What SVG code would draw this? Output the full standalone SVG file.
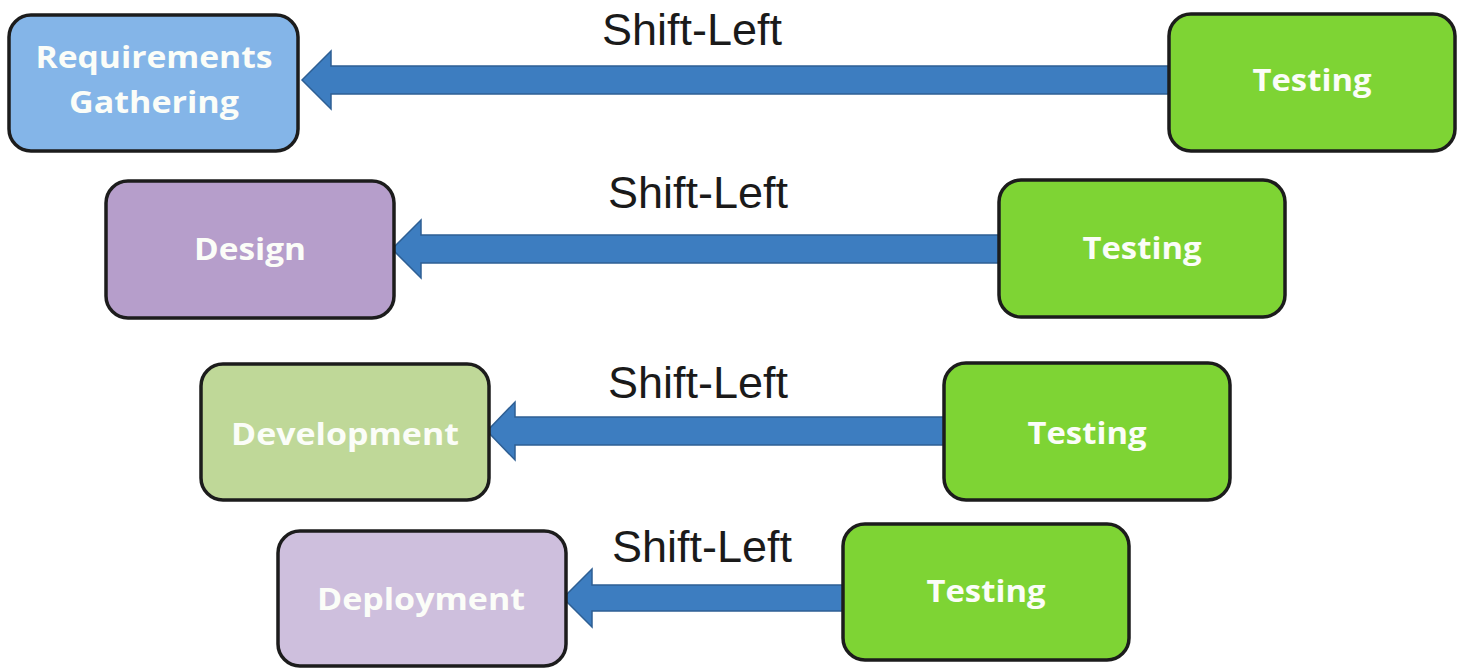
<svg xmlns="http://www.w3.org/2000/svg" width="1460" height="670" viewBox="0 0 1460 670">
<style>
.box{stroke:#1c1c1c;stroke-width:3.5}
.req{fill:#84b5e8}
.des{fill:#b69ecb}
.dev{fill:#bfd898}
.dep{fill:#cebfdd}
.test{fill:#7ed434}
.bt{font-family:"Open Sans","Noto Sans",sans-serif;font-weight:bold;font-size:31px;fill:#fbfdf8;text-anchor:middle}
.lbl{font-family:"Liberation Sans",Arial,sans-serif;font-size:45px;fill:#1a1a1a;text-anchor:middle}
.arr{fill:#3d7dc0;stroke:#2e5f94;stroke-width:1.5;stroke-linejoin:miter}
</style>
<rect width="1460" height="670" fill="#ffffff"/>
<g id="connectors">
<path class="arr" d="M302,80 L331,51 L331,66 L1170,66 L1170,94 L331,94 L331,109 Z"/>
<path class="arr" d="M392,249 L421,220 L421,235 L1000,235 L1000,263 L421,263 L421,278 Z"/>
<path class="arr" d="M487,431 L515,402 L515,417 L945,417 L945,445 L515,445 L515,460 Z"/>
<path class="arr" d="M563,598 L592,569 L592,585 L844,585 L844,611 L592,611 L592,627 Z"/>
<text class="lbl" x="692" y="45">Shift-Left</text>
<text class="lbl" x="698" y="208">Shift-Left</text>
<text class="lbl" x="698" y="398">Shift-Left</text>
<text class="lbl" x="702" y="562">Shift-Left</text>
</g>
<g id="requirements">
<rect class="box req" x="9" y="15" width="289" height="136" rx="22"/>
<text class="bt" x="154" y="68" textLength="237" lengthAdjust="spacingAndGlyphs">Requirements</text>
<text class="bt" x="154" y="113" textLength="170" lengthAdjust="spacingAndGlyphs">Gathering</text>
</g>
<g id="testing1">
<rect class="box test" x="1169" y="14" width="286" height="137" rx="22"/>
<text class="bt" x="1312" y="91" textLength="119" lengthAdjust="spacingAndGlyphs">Testing</text>
</g>
<g id="design">
<rect class="box des" x="106" y="181" width="288" height="137" rx="22"/>
<text class="bt" x="250" y="260" textLength="112" lengthAdjust="spacingAndGlyphs">Design</text>
</g>
<g id="testing2">
<rect class="box test" x="999" y="180" width="286" height="137" rx="22"/>
<text class="bt" x="1142" y="259" textLength="119" lengthAdjust="spacingAndGlyphs">Testing</text>
</g>
<g id="development">
<rect class="box dev" x="201" y="364" width="288" height="136" rx="22"/>
<text class="bt" x="345" y="445" textLength="228" lengthAdjust="spacingAndGlyphs">Development</text>
</g>
<g id="testing3">
<rect class="box test" x="944" y="363" width="286" height="137" rx="22"/>
<text class="bt" x="1087" y="444" textLength="119" lengthAdjust="spacingAndGlyphs">Testing</text>
</g>
<g id="deployment">
<rect class="box dep" x="278" y="531" width="288" height="135" rx="22"/>
<text class="bt" x="421" y="610" textLength="208" lengthAdjust="spacingAndGlyphs">Deployment</text>
</g>
<g id="testing4">
<rect class="box test" x="843" y="524" width="286" height="136" rx="22"/>
<text class="bt" x="986" y="602" textLength="119" lengthAdjust="spacingAndGlyphs">Testing</text>
</g>
</svg>
